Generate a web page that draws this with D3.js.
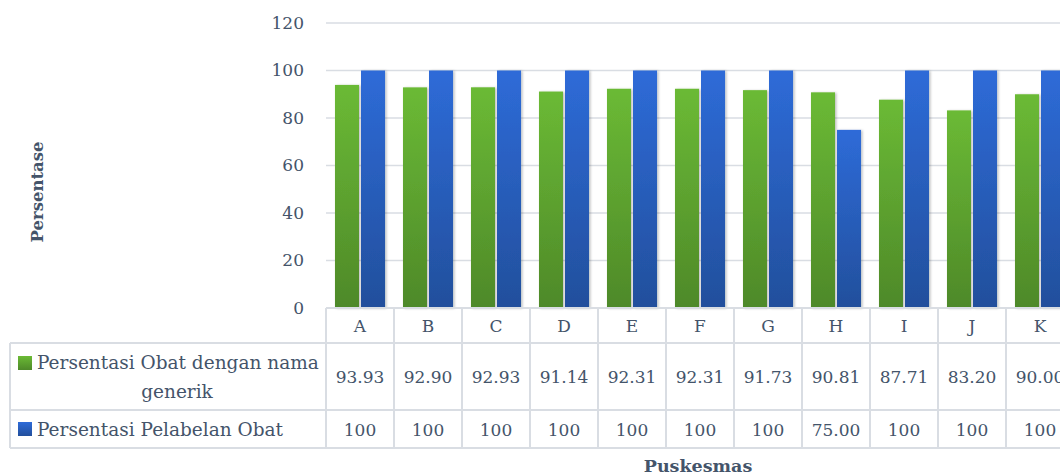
<!DOCTYPE html>
<html>
<head>
<meta charset="utf-8">
<script src="https://cdn.jsdelivr.net/npm/d3@7"></script>
<style>
  html, body { margin: 0; padding: 0; background: #ffffff; }
  svg { display: block; }
  text { font-family: "Palatino Linotype", "Book Antiqua", Palatino, "DejaVu Serif", serif; fill: #44546a; }
</style>
</head>
<body>
<script>
// ---------- DATA ----------
const categories = ["A", "B", "C", "D", "E", "F", "G", "H", "I", "J", "K"];
const seriesNames = ["Persentasi Obat dengan nama generik", "Persentasi Pelabelan Obat"];
const genericValues = [93.93, 92.90, 92.93, 91.14, 92.31, 92.31, 91.73, 90.81, 87.71, 83.20, 90.00];
const labelingValues = [100, 100, 100, 100, 100, 100, 100, 75.00, 100, 100, 100];
const genericLabels = ["93.93", "92.90", "92.93", "91.14", "92.31", "92.31", "91.73", "90.81", "87.71", "83.20", "90.00"];
const labelingLabels = ["100", "100", "100", "100", "100", "100", "100", "75.00", "100", "100", "100"];
const yTicks = [0, 20, 40, 60, 80, 100, 120];
const yTitle = "Persentase";
const xTitle = "Puskesmas";

// ---------- LAYOUT ----------
const W = 1060, H = 475;
const plotLeft = 326, plotRight = 1074, plotTop = 23, plotBottom = 308;
const tableLeft = 10;
const rowTops = [308, 343, 410, 448];
const textColor = "#44546a";
const gridColor = "#d9dde3";

const svg = d3.select("body").append("svg").attr("width", W).attr("height", H);
const defs = svg.append("defs");

function grad(id, top, bottom) {
  const g = defs.append("linearGradient").attr("id", id)
    .attr("x1", 0).attr("y1", 0).attr("x2", 0).attr("y2", 1);
  g.append("stop").attr("offset", "0%").attr("stop-color", top);
  g.append("stop").attr("offset", "100%").attr("stop-color", bottom);
}
grad("gGreen", "#6bba35", "#4e8929");
grad("gBlue", "#2e6bd8", "#224f9c");
const fills = ["url(#gGreen)", "url(#gBlue)"];

const shadow = defs.append("filter").attr("id", "shadow")
  .attr("x", "-30%").attr("y", "-5%").attr("width", "160%").attr("height", "110%");
shadow.append("feDropShadow").attr("dx", 1.5).attr("dy", 0.5).attr("stdDeviation", 1.3)
  .attr("flood-color", "#000").attr("flood-opacity", 0.25);

const x = d3.scaleBand().domain(categories).range([plotLeft, plotRight]).paddingInner(0).paddingOuter(0);
const bw = x.bandwidth();
const xi = d3.scaleBand().domain([0, 1]).range([bw * 0.132, bw * 0.868]).paddingInner(0.077);
const y = d3.scaleLinear().domain([0, 120]).range([plotBottom, plotTop]);

// gridlines
svg.append("g").selectAll("line").data(yTicks.filter(t => t > 0)).join("line")
  .attr("x1", plotLeft).attr("x2", plotRight)
  .attr("y1", d => y(d)).attr("y2", d => y(d))
  .attr("stroke", gridColor).attr("stroke-width", 1.5);

// y axis labels
const yAxis = d3.axisLeft(y).tickValues(yTicks).tickSize(0).tickPadding(0);
const yg = svg.append("g").attr("transform", `translate(${plotLeft - 22},0)`).call(yAxis);
yg.select(".domain").remove();
yg.selectAll("text").attr("font-size", 17).style("fill", textColor)
  .style("font-family", '"Palatino Linotype","Book Antiqua",Palatino,"DejaVu Serif",serif');

// bars
const seriesValues = [genericValues, labelingValues];
const barsG = svg.append("g");
seriesValues.forEach((vals, si) => {
  barsG.append("g").selectAll("rect").data(vals).join("rect")
    .attr("x", (d, i) => x(categories[i]) + xi(si))
    .attr("width", xi.bandwidth())
    .attr("y", d => y(d))
    .attr("height", d => y(0) - y(d))
    .attr("fill", fills[si])
    .attr("filter", "url(#shadow)");
});

// ---------- DATA TABLE ----------
const tg = svg.append("g");
tg.append("line").attr("x1", plotLeft).attr("x2", plotRight).attr("y1", rowTops[0]).attr("y2", rowTops[0])
  .attr("stroke", gridColor).attr("stroke-width", 2);
[1, 2, 3].forEach(r => {
  tg.append("line").attr("x1", tableLeft).attr("x2", plotRight).attr("y1", rowTops[r]).attr("y2", rowTops[r])
    .attr("stroke", gridColor).attr("stroke-width", 2);
});
tg.append("line").attr("x1", tableLeft).attr("x2", tableLeft).attr("y1", rowTops[1]).attr("y2", rowTops[3])
  .attr("stroke", gridColor).attr("stroke-width", 2);
const edges = categories.map(c => x(c)).concat([plotRight]);
tg.selectAll("line.v").data(edges).join("line").attr("class", "v")
  .attr("x1", d => d).attr("x2", d => d).attr("y1", rowTops[0]).attr("y2", rowTops[3])
  .attr("stroke", gridColor).attr("stroke-width", 2);

// category labels
tg.append("g").selectAll("text").data(categories).join("text")
  .attr("x", d => x(d) + bw / 2).attr("y", 332)
  .attr("text-anchor", "middle").attr("font-size", 17).text(d => d);

// row values
tg.append("g").selectAll("text").data(genericLabels).join("text")
  .attr("x", (d, i) => x(categories[i]) + bw / 2).attr("y", 383)
  .attr("text-anchor", "middle").attr("font-size", 17).text(d => d);
tg.append("g").selectAll("text").data(labelingLabels).join("text")
  .attr("x", (d, i) => x(categories[i]) + bw / 2).attr("y", 436)
  .attr("text-anchor", "middle").attr("font-size", 17).text(d => d);

// legend keys in the table
tg.append("rect").attr("x", 18).attr("y", 356).attr("width", 14).attr("height", 14).attr("fill", fills[0]);
tg.append("rect").attr("x", 18).attr("y", 422).attr("width", 14).attr("height", 14).attr("fill", fills[1]);
tg.append("text").attr("x", 37).attr("y", 369).attr("font-size", 18.5).text("Persentasi Obat dengan nama");
tg.append("text").attr("x", 177).attr("y", 398).attr("text-anchor", "middle").attr("font-size", 18.5).text("generik");
tg.append("text").attr("x", 37).attr("y", 436).attr("font-size", 18.5).text(seriesNames[1]);

// axis titles
svg.append("text").attr("transform", "translate(43,192) rotate(-90)")
  .attr("text-anchor", "middle").attr("font-size", 16.5).attr("font-weight", "bold").text(yTitle);
svg.append("text").attr("x", 698).attr("y", 472)
  .attr("text-anchor", "middle").attr("font-size", 17.5).attr("font-weight", "bold").text(xTitle);
</script>
</body>
</html>
